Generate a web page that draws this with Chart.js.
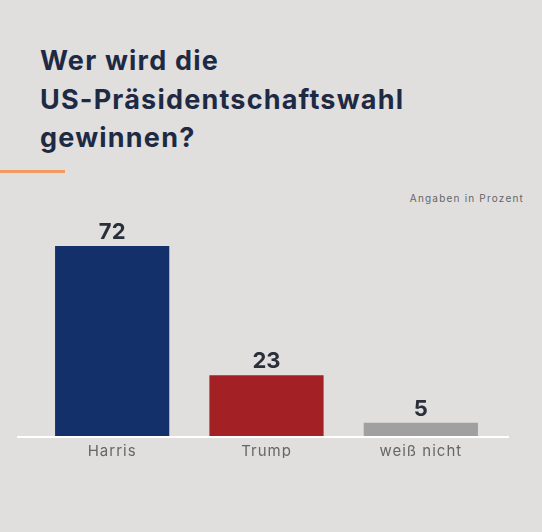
<!DOCTYPE html>
<html lang="de">
<head>
<meta charset="utf-8">
<script src="https://cdn.jsdelivr.net/npm/chart.js@4"></script>
<style>
  html, body { margin: 0; padding: 0; background: #e0dfde; }
  #wrap { position: relative; width: 542px; height: 532px; overflow: hidden; }
  #title {
    position: absolute; left: 40px; top: 42px; margin: 0;
    font: bold 27px/38.5px Inter, sans-serif; color: #1e2a44; letter-spacing: 1.2px;
  }
  #rule { position: absolute; left: 0; top: 170px; width: 65px; height: 3px; background: #f29a60; }
  #note {
    position: absolute; right: 18px; top: 192px;
    font: 10px Inter, sans-serif; color: #666; letter-spacing: 1.2px;
  }
  canvas { position: absolute; left: 0; top: 0; }
</style>
</head>
<body>
<div id="wrap">
  <h1 id="title">Wer wird die<br>US-Präsidentschaftswahl<br>gewinnen?</h1>
  <div id="rule"></div>
  <div id="note">Angaben in Prozent</div>
  <canvas id="chart" width="542" height="532"></canvas>
</div>
<script>
const categories = ["Harris", "Trump", "weiß nicht"];
const values = [72, 23, 5];
const barColors = ["#14306a", "#a32124", "#a0a0a0"];

// letter spacing for the tick labels, reset before the value labels
const spacing = {
  id: "spacing",
  beforeDraw(chart) { chart.ctx.letterSpacing = "1px"; },
  beforeDatasetsDraw(chart) { chart.ctx.letterSpacing = "0px"; }
};

// value labels above bars + white baseline wider than the bars
const barExtras = {
  id: "barExtras",
  afterDatasetsDraw(chart) {
    const ctx = chart.ctx;
    const y = chart.scales.y;
    const base = y.getPixelForValue(0);
    ctx.save();
    ctx.strokeStyle = "#ffffff";
    ctx.lineWidth = 2;
    ctx.beginPath();
    ctx.moveTo(17, base + 1);
    ctx.lineTo(509, base + 1);
    ctx.stroke();

    ctx.fillStyle = "#2a2f3a";
    ctx.font = "bold 22px Inter, sans-serif";
    ctx.textAlign = "center";
    ctx.textBaseline = "alphabetic";
    chart.getDatasetMeta(0).data.forEach((bar, i) => {
      ctx.fillText(values[i], bar.x, bar.y - 7);
    });
    ctx.restore();
  }
};

new Chart(document.getElementById("chart"), {
  type: "bar",
  data: {
    labels: categories,
    datasets: [{
      data: values,
      backgroundColor: barColors,
      borderWidth: 0,
      categoryPercentage: 1,
      barPercentage: 0.74,
    }],
  },
  options: {
    responsive: false,
    animation: false,
    layout: { padding: { left: 35, right: 44, top: 246, bottom: 74 } },
    plugins: { legend: { display: false }, tooltip: { enabled: false } },
    scales: {
      y: { display: false, min: 0, max: 72 },
      x: {
        grid: { display: false },
        border: { display: false },
        ticks: { color: "#666", font: { family: "Inter, sans-serif", size: 15 }, padding: -2 },
      },
    },
  },
  plugins: [spacing, barExtras],
});
</script>
</body>
</html>
